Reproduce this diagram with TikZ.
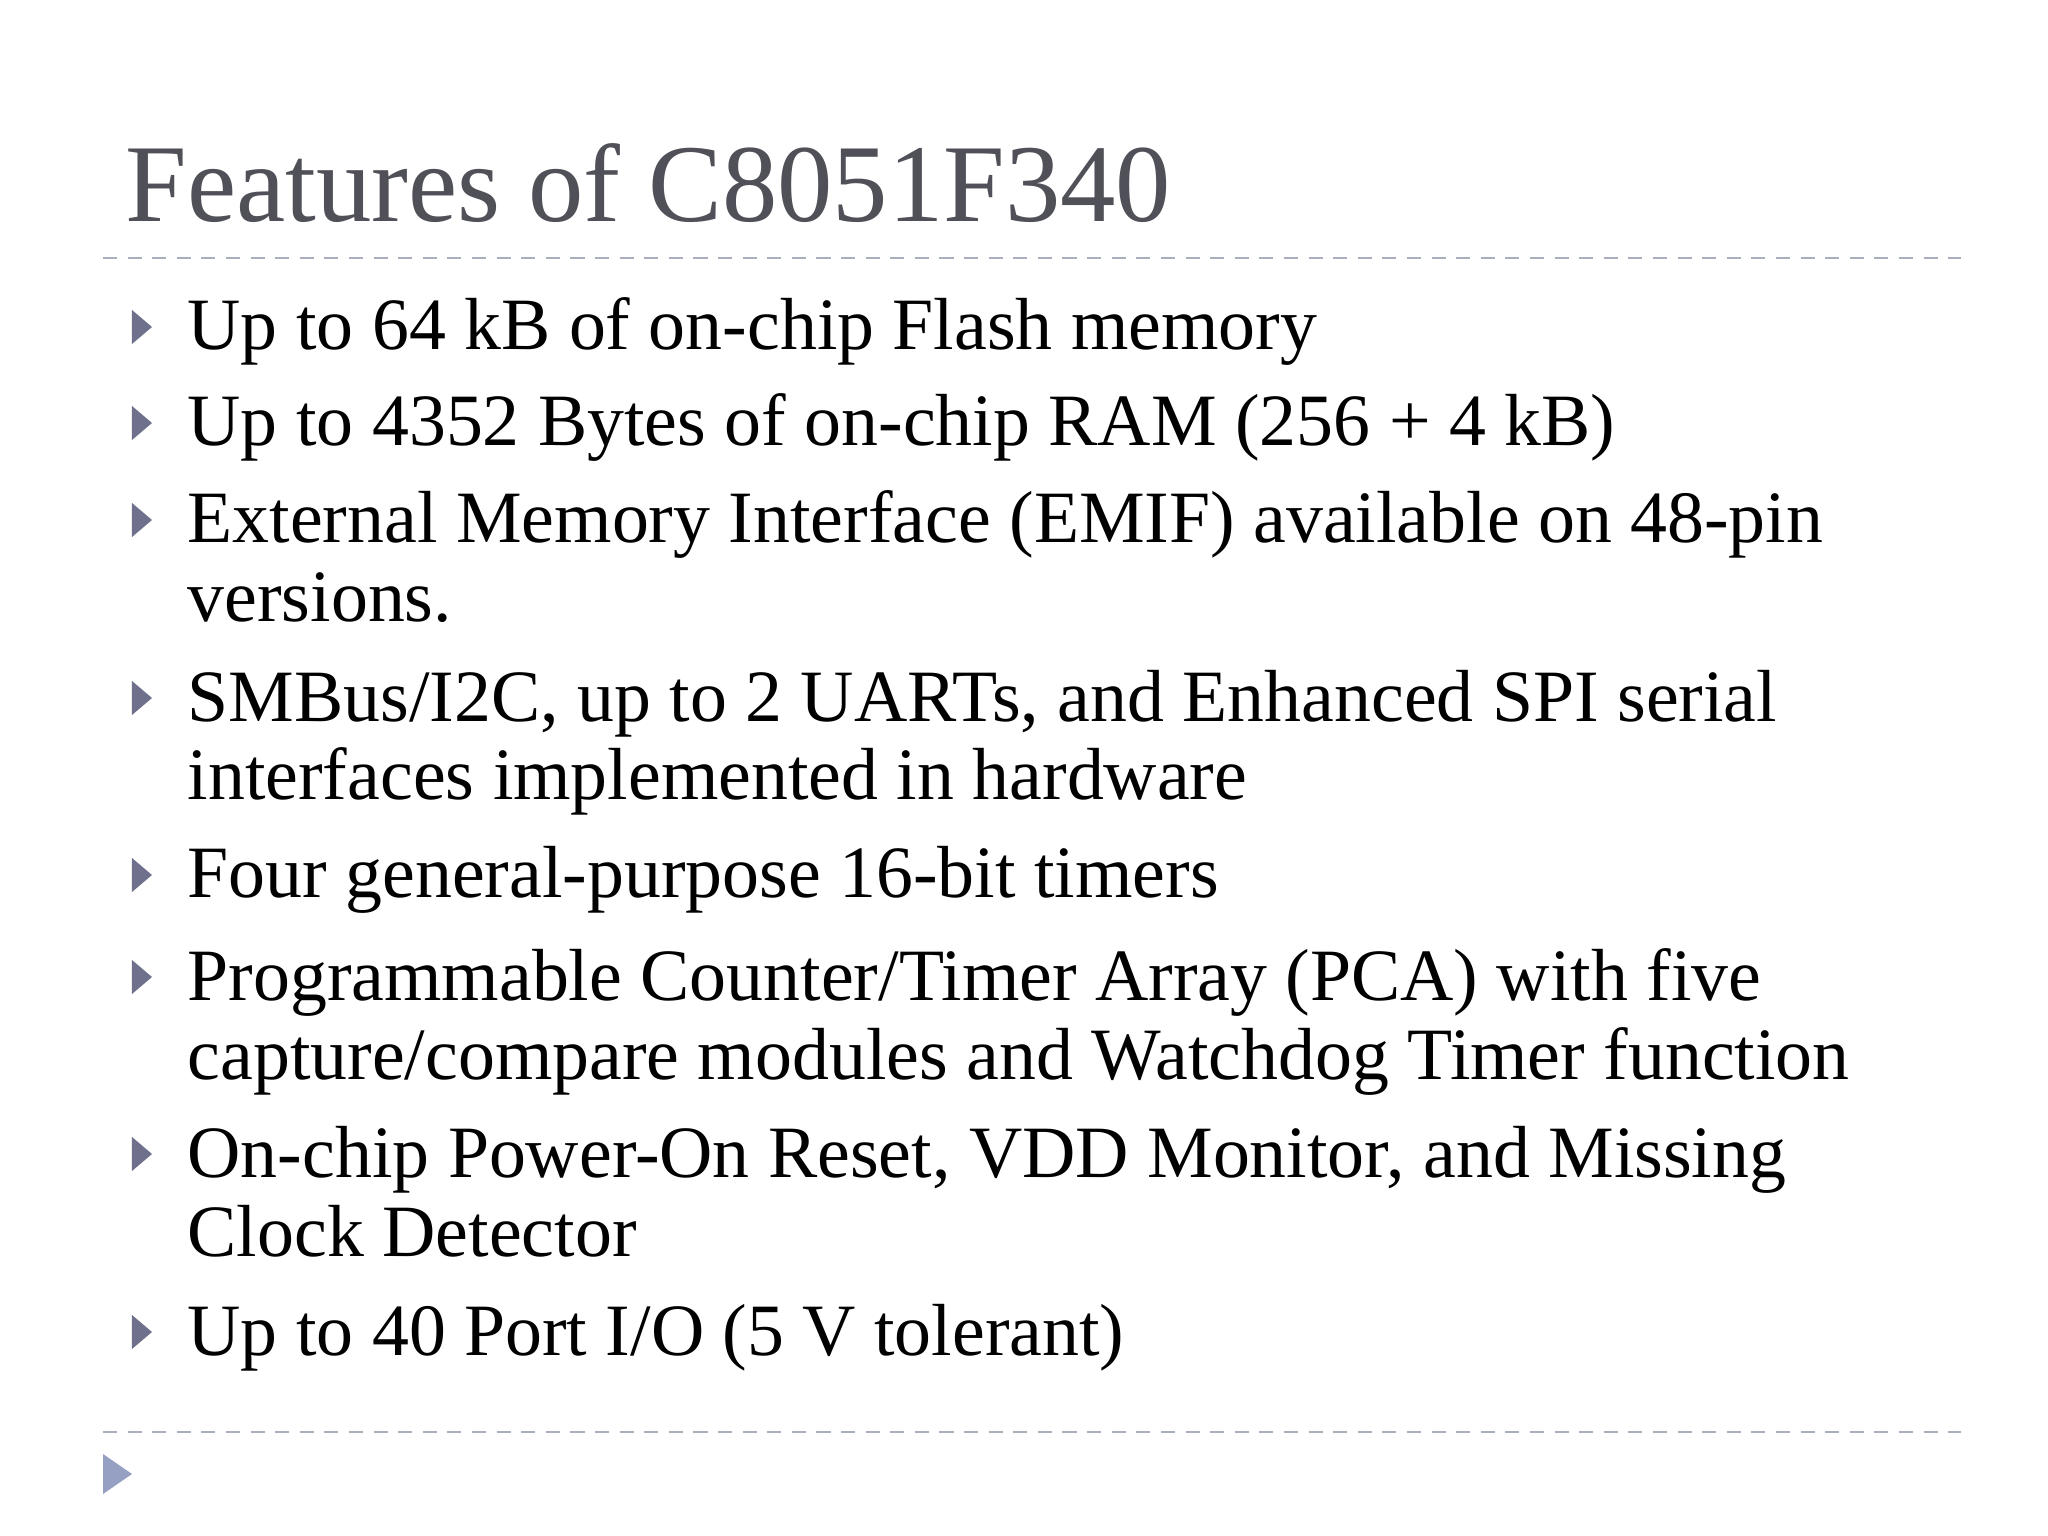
\documentclass[tikz,border=0pt]{standalone}
\usepackage{fontspec}
\setmainfont{Liberation Serif}
\usetikzlibrary{positioning,calc}
\definecolor{titlegray}{RGB}{80,80,88}
\definecolor{bulletgray}{RGB}{110,112,140}
\definecolor{rulegray}{RGB}{170,175,190}
\definecolor{cornerblue}{RGB}{150,160,195}
\tikzset{
  line/.style={anchor=base west, inner sep=0pt, font=\fontsize{21}{25}\selectfont},
  rule/.style={draw=rulegray, dash pattern=on 4pt off 3pt, line width=0.7pt}
}
\begin{document}
\begin{tikzpicture}[x=1cm,y=-1cm]
\useasboundingbox[fill=white] (0,0) rectangle (20.48,15.36);
% title and rules
\node[anchor=base west, inner sep=0pt, text=titlegray, font=\fontsize{31.5}{36}\selectfont] (title) at (1.25,2.22) {Features of C8051F340};
\draw[rule] (1.03,2.58) -- (19.61,2.58);
\draw[rule] (1.03,14.32) -- (19.61,14.32);
\fill[cornerblue] (1.03,14.54) -- (1.03,14.94) -- (1.32,14.74) -- cycle;
% bullet lines
\node[line] (l1) at (1.87,3.50) {Up to 64 kB of on-chip Flash memory};
\node[line] (l2) at (1.87,4.46) {Up to 4352 Bytes of on-chip RAM (256 + 4 kB)};
\node[line] (l3) at (1.87,5.43) {External Memory Interface (EMIF) available on 48-pin};
\node[line] (l3b) at (1.87,6.22) {versions.};
\node[line] (l4) at (1.87,7.21) {SMBus/I2C, up to 2 UARTs, and Enhanced SPI serial};
\node[line] (l4b) at (1.87,8.00) {interfaces implemented in hardware};
\node[line] (l5) at (1.87,8.98) {Four general-purpose 16-bit timers};
\node[line] (l6) at (1.87,10.00) {Programmable Counter/Timer Array (PCA) with five};
\node[line] (l6b) at (1.87,10.79) {capture/compare modules and Watchdog Timer function};
\node[line] (l7) at (1.87,11.77) {On-chip Power-On Reset, VDD Monitor, and Missing};
\node[line] (l7b) at (1.87,12.56) {Clock Detector};
\node[line] (l8) at (1.87,13.55) {Up to 40 Port I/O (5 V tolerant)};
\foreach \n in {l1,l2,l3,l4,l5,l6,l7,l8}{
  \fill[bulletgray] ($(\n.base west)+(-0.55,-0.40)$) -- ++(0,0.34) -- ++(0.2,-0.17) -- cycle;
}
\end{tikzpicture}
\end{document}
